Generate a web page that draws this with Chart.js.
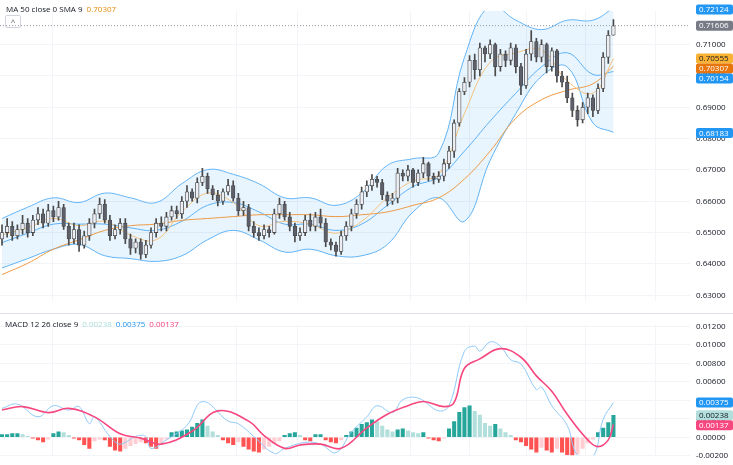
<!DOCTYPE html>
<html>
<head>
<meta charset="utf-8">
<script src="https://cdn.jsdelivr.net/npm/chart.js"></script>
<style>
html,body{margin:0;background:#fff;font-family:"Open Sans",sans-serif;overflow:hidden}
#wrap{position:relative;width:733px;height:465px}
#top{position:absolute;left:0;top:0;width:733px;height:312px}
#bot{position:absolute;left:0;top:313px;width:733px;height:152px;border-top:1px solid #e0e3eb}
.leg{position:absolute;font-size:8px;color:#131722;white-space:nowrap}
.leg span{margin-left:4px}
#btn{position:absolute;left:5px;top:15px;width:14px;height:11px;border:1px solid #d1d4dc;border-radius:2px;font-size:8px;line-height:11px;text-align:center;color:#555}
</style>
</head>
<body>
<div id="wrap">
  <div id="top"><canvas id="price"></canvas></div>
  <div id="bot"><canvas id="macd"></canvas></div>
  <div class="leg" style="left:6px;top:3px">MA 50 close 0 SMA 9<span style="color:#e8890c">0.70307</span></div>
  <div id="btn">^</div>
  <div class="leg" style="left:5px;top:318px">MACD 12 26 close 9<span style="color:#a8dcd6">0.00238</span><span style="color:#2196f3">0.00375</span><span style="color:#f23c7a">0.00137</span></div>
</div>
<script>
/* ---------- candles ---------- */
const opens=[0.648,0.650,0.652,0.649,0.651,0.653,0.650,0.654,0.656,0.653,
0.657,0.655,0.658,0.652,0.648,0.651,0.646,0.649,0.653,0.656,
0.659,0.654,0.649,0.651,0.653,0.648,0.645,0.647,0.643,0.646,
0.650,0.653,0.652,0.655,0.657,0.656,0.660,0.663,0.661,0.666,
0.668,0.664,0.662,0.660,0.663,0.665,0.661,0.657,0.658,0.652,
0.650,0.649,0.651,0.650,0.656,0.659,0.655,0.652,0.649,0.650,
0.654,0.652,0.655,0.653,0.647,0.646,0.644,0.649,0.652,0.656,
0.659,0.663,0.665,0.667,0.666,0.662,0.660,0.661,0.669,0.668,
0.670,0.666,0.669,0.672,0.668,0.667,0.668,0.672,0.676,0.685,
0.695,0.698,0.705,0.702,0.709,0.707,0.710,0.703,0.707,0.705,
0.709,0.703,0.697,0.707,0.711,0.706,0.710,0.703,0.708,0.700,
0.698,0.693,0.689,0.686,0.690,0.693,0.689,0.696,0.706,0.713];
const closes=[0.650,0.652,0.649,0.651,0.653,0.650,0.654,0.656,0.653,0.657,
0.655,0.658,0.652,0.648,0.651,0.646,0.649,0.653,0.656,0.659,
0.654,0.649,0.651,0.653,0.648,0.645,0.647,0.643,0.646,0.650,
0.653,0.652,0.655,0.657,0.656,0.660,0.663,0.661,0.666,0.668,
0.664,0.662,0.660,0.663,0.665,0.661,0.657,0.658,0.652,0.650,
0.649,0.651,0.650,0.656,0.659,0.655,0.652,0.649,0.650,0.654,
0.652,0.655,0.653,0.647,0.646,0.644,0.649,0.652,0.656,0.659,
0.663,0.665,0.667,0.666,0.662,0.660,0.661,0.669,0.668,0.670,
0.666,0.669,0.672,0.668,0.667,0.668,0.672,0.676,0.685,0.695,
0.698,0.705,0.702,0.709,0.707,0.710,0.703,0.707,0.705,0.709,
0.703,0.697,0.707,0.711,0.706,0.710,0.703,0.708,0.700,0.698,
0.693,0.689,0.686,0.690,0.693,0.689,0.696,0.706,0.713,0.716];
const highs=[0.6525,0.6545,0.6535,0.6525,0.6555,0.6545,0.6555,0.6580,0.6575,0.6590,
0.6585,0.6600,0.6590,0.6530,0.6530,0.6525,0.6505,0.6545,0.6575,0.6610,
0.6605,0.6555,0.6525,0.6545,0.6545,0.6495,0.6480,0.6480,0.6475,0.6515,
0.6545,0.6550,0.6565,0.6585,0.6585,0.6615,0.6650,0.6640,0.6675,0.6705,
0.6690,0.6650,0.6635,0.6640,0.6670,0.6665,0.6625,0.6600,0.6590,0.6535,
0.6515,0.6525,0.6520,0.6575,0.6610,0.6600,0.6565,0.6530,0.6515,0.6555,
0.6560,0.6565,0.6575,0.6545,0.6480,0.6470,0.6505,0.6535,0.6575,0.6605,
0.6645,0.6665,0.6685,0.6680,0.6670,0.6630,0.6625,0.6705,0.6700,0.6715,
0.6705,0.6700,0.6740,0.6725,0.6690,0.6695,0.6735,0.6775,0.6860,0.6960,
0.6995,0.7065,0.7070,0.7105,0.7095,0.7115,0.7105,0.7085,0.7080,0.7105,
0.7100,0.7040,0.7085,0.7145,0.7120,0.7115,0.7105,0.7090,0.7085,0.7015,
0.7000,0.6945,0.6905,0.6915,0.6945,0.6940,0.6975,0.7075,0.7145,0.7180];
const lows=[0.6460,0.6485,0.6475,0.6480,0.6495,0.6485,0.6490,0.6525,0.6515,0.6520,
0.6535,0.6540,0.6510,0.6460,0.6465,0.6440,0.6450,0.6475,0.6515,0.6545,
0.6530,0.6475,0.6480,0.6495,0.6465,0.6430,0.6435,0.6415,0.6420,0.6450,
0.6485,0.6505,0.6505,0.6540,0.6545,0.6545,0.6580,0.6600,0.6595,0.6650,
0.6625,0.6605,0.6585,0.6590,0.6620,0.6600,0.6555,0.6555,0.6505,0.6485,
0.6475,0.6480,0.6485,0.6495,0.6545,0.6540,0.6505,0.6470,0.6475,0.6490,
0.6505,0.6505,0.6515,0.6455,0.6445,0.6425,0.6430,0.6475,0.6505,0.6545,
0.6575,0.6615,0.6635,0.6645,0.6605,0.6585,0.6590,0.6595,0.6665,0.6665,
0.6645,0.6650,0.6675,0.6665,0.6655,0.6660,0.6665,0.6705,0.6740,0.6840,
0.6940,0.6965,0.6990,0.7000,0.7045,0.7055,0.7000,0.7015,0.7030,0.7035,
0.7010,0.6940,0.6960,0.7050,0.7045,0.7045,0.7010,0.7015,0.6980,0.6965,
0.6915,0.6870,0.6840,0.6850,0.6880,0.6870,0.6880,0.6950,0.7040,0.7130];

/* ---------- overlays (sampled every 5 bars) ---------- */
const sampleIdx=[0,5,10,15,20,25,30,35,40,45,50,55,60,65,70,75,80,85,90,95,100,105,110,115,119];
const bbUpper=[0.6545,0.6581,0.6611,0.6596,0.6626,0.6611,0.6596,0.6656,0.6701,0.6686,0.6656,0.6611,0.6611,0.6587,0.6626,0.6715,0.6736,0.6754,0.7059,0.7225,0.7178,0.7148,0.7178,0.7178,0.7217];
const bbBasis=[0.6468,0.6498,0.6527,0.6527,0.6527,0.6515,0.6507,0.6536,0.6587,0.6596,0.6566,0.6527,0.6527,0.6507,0.6527,0.6587,0.6647,0.6677,0.6760,0.6856,0.6945,0.7029,0.7074,0.7005,0.7014];
const bbLower=[0.6387,0.6417,0.6447,0.6462,0.6426,0.6417,0.6408,0.6426,0.6477,0.6507,0.6477,0.6438,0.6447,0.6426,0.6426,0.6462,0.6566,0.6611,0.6536,0.6730,0.6880,0.6999,0.7029,0.6850,0.6820];
const maFast=[0.6492,0.6516,0.6545,0.6522,0.6536,0.6492,0.6477,0.6566,0.6626,0.6596,0.6522,0.6536,0.6527,0.6498,0.6536,0.6611,0.6665,0.6686,0.6880,0.7044,0.7074,0.7083,0.6984,0.6945,0.70555];
const maSlow=[0.6366,0.6402,0.6447,0.6477,0.6507,0.6522,0.6527,0.6539,0.6545,0.6551,0.6557,0.6557,0.6557,0.6551,0.6557,0.6566,0.6587,0.6611,0.6671,0.6760,0.6865,0.6924,0.6954,0.6975,0.70307];

/* ---------- MACD ---------- */
const macdIdx=[0,3,7,10,13,15,17,18,21,23,26,28,29,32,36,39,44,46,49,53,55,59,62,65,68,71,73,76,78,81,85,87,90,92,93,95,97,99,101,104,105,107,110,112,115,117,119];
const macdVals=[0.00313,0.00359,0.00221,0.00341,0.00295,0.00332,0.00147,0.00221,0.00009,-0.00074,0.00009,0.00009,-0.00120,-0.00028,0.00129,0.00387,0.00175,0.00147,0.00009,-0.00175,-0.00120,-0.00055,-0.00074,-0.00166,0.00055,0.00221,0.00341,0.00267,0.00406,0.00424,0.00286,0.00341,0.00931,0.00986,0.00931,0.01032,0.00986,0.00839,0.00793,0.00516,0.00544,0.00341,0.00129,-0.00194,-0.00212,0.00194,0.00375];
const sigIdx=[0,4,9,13,18,23,27,31,37,42,48,51,55,58,62,66,71,75,79,82,86,88,90,93,97,101,104,107,110,114,116,118,119];
const sigVals=[0.00295,0.00332,0.00267,0.00313,0.00221,0.00037,-0.00009,-0.00074,0.00065,0.00286,0.00175,0.00018,-0.00120,-0.00083,-0.00074,-0.00120,0.00101,0.00249,0.00341,0.00387,0.00332,0.00378,0.00747,0.00848,0.00959,0.00866,0.00664,0.00498,0.00249,-0.00028,-0.00101,-0.00028,0.00137];
const hist=[0.0003,0.0003,0.0004,0.0004,0.0003,0.0001,-0.0001,-0.0003,-0.0005,-0.0002,
0.0004,0.0006,0.0005,0.0002,-0.0001,-0.0003,-0.0008,-0.0012,-0.0004,-0.0002,
-0.0003,-0.0010,-0.0014,-0.0015,-0.0012,-0.0009,-0.0007,-0.0005,-0.0006,-0.0010,
-0.0012,-0.0006,-0.0002,0.0005,0.0006,0.0007,0.0008,0.0011,0.0015,0.0019,
0.0012,0.0006,0.0002,-0.0003,-0.0006,-0.0008,-0.0005,-0.0010,-0.0013,-0.0015,
-0.0016,-0.0013,-0.0010,-0.0007,-0.0004,0.0002,0.0004,0.0005,0.0002,-0.0003,
-0.0004,0.0003,0.0003,-0.0003,-0.0005,-0.0006,-0.0003,0.0002,0.0006,0.0010,
0.0014,0.0016,0.0019,0.0017,0.0012,0.0008,0.0006,0.0008,0.0009,0.0007,
0.0005,0.0004,0.0005,-0.0001,-0.0003,-0.0004,-0.0001,0.0009,0.0017,0.0027,
0.0032,0.0034,0.0028,0.0024,0.0015,0.0012,0.0014,0.0009,0.0005,0.0002,
-0.0003,-0.0005,-0.0009,-0.0013,-0.0016,-0.0011,-0.0014,-0.0016,-0.0012,-0.0016,
-0.0019,-0.0020,-0.0018,-0.0012,-0.0006,-0.0002,0.0005,0.0010,0.0016,0.00238];

const priceTicks=[0.63,0.64,0.65,0.66,0.67,0.68,0.69,0.70,0.71];
const macdTicks=[-0.002,0,0.002,0.004,0.006,0.008,0.010,0.012];
const vGrid=[9.9,45.7,57.6,79.6,90.9,102,113.6,127.2];

const X_MIN=-0.39, X_MAX=133.9;
const pts=(idx,vals)=>idx.map((x,i)=>({x,y:vals[i]}));
const bars=closes.map((c,i)=>i);

function xScale(){
  return {type:'linear',min:X_MIN,max:X_MAX,offset:false,
    afterBuildTicks:s=>{s.ticks=vGrid.map(v=>({value:v}));},
    ticks:{display:false},grid:{color:'#f2f4f8',drawTicks:false,offset:false},border:{display:false},
    afterFit:s=>{s.height=0;}};
}
function yScale(min,max,ticks,fmt){
  return {position:'right',min,max,
    afterBuildTicks:s=>{s.ticks=ticks.map(v=>({value:v}));},
    afterFit:s=>{s.width=43;},
    grid:{color:'#f2f4f8',drawTicks:false},border:{display:false},
    ticks:{color:'#131722',font:{size:8,family:'Open Sans'},padding:6,callback:v=>fmt(v)}};
}

/* right edge value tags, pushed apart when they collide */
function tagPlugin(tags,line){
  return {id:'tags',afterDraw(ch){
    const c=ch.ctx,y=ch.scales.y,a=ch.chartArea;
    c.save();
    if(line){
      const py=y.getPixelForValue(line);
      c.strokeStyle='#9598a1';c.setLineDash([1,2]);c.lineWidth=1;
      c.beginPath();c.moveTo(0,py);c.lineTo(a.right,py);c.stroke();c.setLineDash([]);
    }
    c.font='8px "Open Sans"';c.textBaseline='middle';
    let last=-99;
    tags.forEach(t=>{
      let py=y.getPixelForValue(t.v);
      if(py<last+10) py=last+10;
      last=py;
      c.fillStyle=t.bg;c.beginPath();c.roundRect(a.right+6,py-5,37,10,2);c.fill();
      c.fillStyle=t.fg;c.fillText(t.v.toFixed(5),a.right+9,py+0.5);
    });
    c.restore();
  }};
}

const upFill='#eceef3', dnFill='#5d606b', edge='#4a4a4a';
new Chart(document.getElementById('price'),{
  type:'bar',
  data:{datasets:[
    {type:'line',data:pts(sampleIdx,bbUpper),borderColor:'#64b5f6',borderWidth:1,pointRadius:0,tension:.4,fill:'+2',backgroundColor:'rgba(33,150,243,0.1)',order:5},
    {type:'line',data:pts(sampleIdx,bbBasis),borderColor:'#64b5f6',borderWidth:1,pointRadius:0,tension:.4,order:5},
    {type:'line',data:pts(sampleIdx,bbLower),borderColor:'#64b5f6',borderWidth:1,pointRadius:0,tension:.4,order:5},
    {type:'line',data:pts(sampleIdx,maFast),borderColor:'#f6c27e',borderWidth:1,pointRadius:0,tension:.4,order:4},
    {type:'line',data:pts(sampleIdx,maSlow),borderColor:'#ee9a45',borderWidth:1,pointRadius:0,tension:.4,order:4},
    {data:bars.map(i=>({x:i,y:[lows[i],highs[i]]})),backgroundColor:edge,barThickness:1,grouped:false,order:2},
    {data:bars.map(i=>({x:i,y:[opens[i],closes[i]]})),
     backgroundColor:bars.map(i=>closes[i]>=opens[i]?upFill:dnFill),
     borderColor:edge,borderWidth:0.8,borderSkipped:false,barThickness:3.6,grouped:false,order:1}
  ]},
  options:{animation:false,responsive:true,maintainAspectRatio:false,
    layout:{padding:0},
    plugins:{legend:{display:false},tooltip:{enabled:false}},
    scales:{x:xScale(),y:yScale(0.6281,0.7208,priceTicks,v=>v.toFixed(5))}},
  plugins:[tagPlugin([
    {v:0.72124,bg:'#2196f3',fg:'#fff'},
    {v:0.71606,bg:'#787b86',fg:'#fff'},
    {v:0.70555,bg:'#f9b233',fg:'#131722'},
    {v:0.70307,bg:'#e8740c',fg:'#fff'},
    {v:0.70154,bg:'#2196f3',fg:'#fff'},
    {v:0.68183,bg:'#2196f3',fg:'#fff'}],0.71606)]
});

const histCol=hist.map((h,i)=>{
  const p=i?hist[i-1]:h;
  if(h>=0) return h>=p?'#26a69a':'#b2dfdb';
  return h<=p?'#ff5252':'#ffcdd2';
});
new Chart(document.getElementById('macd'),{
  type:'bar',
  data:{datasets:[
    {type:'line',data:pts(macdIdx,macdVals),borderColor:'#90caf9',borderWidth:1,pointRadius:0,tension:.4,order:2},
    {type:'line',data:pts(sigIdx,sigVals),borderColor:'#f7477f',borderWidth:1.6,pointRadius:0,tension:.4,order:1},
    {data:hist.map((h,i)=>({x:i,y:h})),backgroundColor:histCol,barThickness:3.4,order:3}
  ]},
  options:{animation:false,responsive:true,maintainAspectRatio:false,
    layout:{padding:0},
    plugins:{legend:{display:false},tooltip:{enabled:false}},
    scales:{x:xScale(),y:yScale(-0.00194,0.01217,macdTicks,v=>v.toFixed(5))}},
  plugins:[tagPlugin([
    {v:0.00375,bg:'#2196f3',fg:'#fff'},
    {v:0.00238,bg:'#b2dfdb',fg:'#131722'},
    {v:0.00137,bg:'#f7477f',fg:'#fff'}])]
});
</script>
</body>
</html>
